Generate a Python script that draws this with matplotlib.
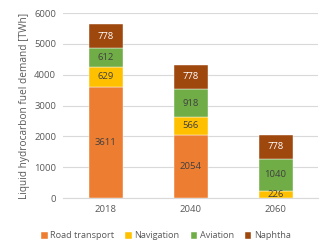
import matplotlib
matplotlib.use("Agg")
import matplotlib.pyplot as plt
import numpy as np

years = ["2018", "2040", "2060"]
series = ["Road transport", "Navigation", "Aviation", "Naphtha"]
road = [3611, 2054, 0]
navigation = [629, 566, 226]
aviation = [612, 918, 1040]
naphtha = [778, 778, 778]
colors = ["#ED7D31", "#FFC000", "#70AD47", "#9E480E"]
label_colors = ["#404040", "#404040", "#404040", "#FFFFFF"]

plt.rcParams['font.family'] = ['Open Sans', 'DejaVu Sans']
fig = plt.figure(figsize=(3.32, 2.52), dpi=100)
ax = fig.add_axes([63/332, 1 - 198/252, 255/332, 185/252])

x = np.arange(len(years))
bottom = np.zeros(len(years))
data = [road, navigation, aviation, naphtha]
for vals, name, c, lc in zip(data, series, colors, label_colors):
    vals = np.array(vals, dtype=float)
    ax.bar(x, vals, 0.4, bottom=bottom, color=c, label=name,
           edgecolor="white", linewidth=0.3, zorder=3)
    for xi, v, b in zip(x, vals, bottom):
        if v > 0:
            ax.text(xi, b + v / 2, f"{int(v)}", ha="center", va="center",
                    fontsize=6.8, color=lc, zorder=4)
    bottom += vals

ax.set_xlim(-0.5, 2.5)
ax.set_ylim(0, 6000)
ax.set_yticks(np.arange(0, 6001, 1000))
ax.set_xticks(x)
ax.set_xticklabels(years)
ax.tick_params(axis="both", length=0, labelsize=6.8, colors="#595959")
ax.tick_params(axis="y", pad=5)
ax.tick_params(axis="x", pad=5)
ax.grid(axis="y", color="#D9D9D9", linewidth=0.8, zorder=0)
for s in ["top", "right", "left"]:
    ax.spines[s].set_visible(False)
ax.spines["bottom"].set_color("#D9D9D9")
ax.spines["bottom"].set_linewidth(0.8)
ax.set_ylabel("Liquid hydrocarbon fuel demand [TWh]", fontsize=7.3, color="#595959", labelpad=3)

leg = fig.legend(loc="center", bbox_to_anchor=(0.5, 1 - 236/252), ncol=4, frameon=False,
                 fontsize=6.6, handlelength=0.7, handleheight=0.7, handletextpad=0.3,
                 columnspacing=1.2)
for t in leg.get_texts():
    t.set_color("#595959")

fig.savefig("out.png", dpi=100)
